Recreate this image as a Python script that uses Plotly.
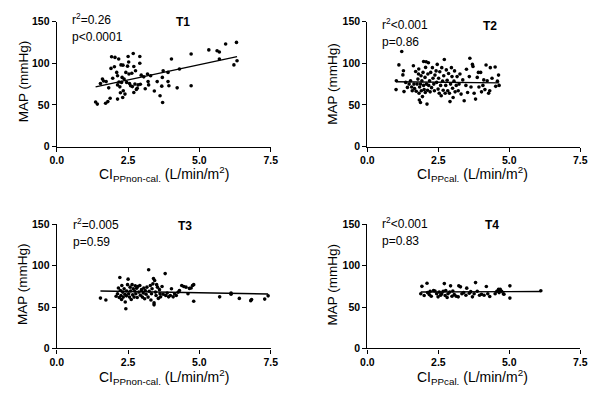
import plotly.graph_objects as go

# ---------------- data ----------------
t1_x = [1.36,1.42,1.53,1.6,1.64,1.71,1.73,1.79,1.82,1.87,1.9,1.92,1.96,2.02,2.04,2.1,2.13,2.13,2.13,2.17,
        2.18,2.21,2.23,2.25,2.27,2.29,2.31,2.32,2.33,2.36,2.39,2.42,2.45,2.48,2.5,2.52,2.53,2.55,2.59,2.63,
        2.65,2.68,2.7,2.7,2.74,2.76,2.79,2.82,2.85,2.91,2.91,2.93,2.96,3.05,3.1,3.18,3.2,3.22,3.29,3.42,
        3.52,3.62,3.68,3.7,3.71,3.73,3.9,3.9,3.93,4.02,4.22,4.3,4.71,4.71,5.33,5.62,5.7,5.7,5.92,6.21,6.3,6.32]
t1_y = [53.5,51,75.6,81,78.7,52,78,54,70.5,58,93.8,107.7,82,95.7,107,89,85,74,57,105,
        77.5,71.7,64.7,98,77,83,59,97.7,67,81,63,89,77,96.5,108,101.5,87,75.6,73,88,
        72,111.6,96,65,75,91,68.6,70,74,108,100,74.8,85.7,83.7,69.4,87,78,74,85,66.7,
        78,61,72.5,83,53,91,78,89,73,105,70.5,93,111,73,116,115,113.5,105,123,98,125,103]
t1_fit_x = [1.36, 6.32]
t1_fit_y = [71.7, 108.0]

t2_x = [1.01,1.02,1.11,1.21,1.25,1.27,1.29,1.35,1.41,1.47,1.52,1.56,1.58,1.62,1.64,1.66,1.7,1.72,1.75,1.78,
        1.8,1.81,1.82,1.83,1.84,1.87,1.87,1.89,1.9,1.92,1.94,1.96,1.98,1.98,2.0,2.03,2.04,2.05,2.07,2.08,
        2.1,2.12,2.13,2.15,2.16,2.19,2.21,2.23,2.26,2.29,2.31,2.34,2.36,2.38,2.42,2.44,2.46,2.49,2.51,2.53,
        2.55,2.58,2.6,2.62,2.65,2.67,2.69,2.71,2.74,2.76,2.78,2.81,2.83,2.86,2.89,2.91,2.93,2.96,2.98,3.0,
        3.02,3.05,3.07,3.09,3.13,3.16,3.2,3.23,3.26,3.3,3.36,3.41,3.47,3.49,3.53,3.59,3.61,3.65,3.7,3.72,
        3.76,3.81,3.87,3.91,3.93,3.99,4.02,4.07,4.1,4.14,4.18,4.22,4.27,4.31,4.33,4.39,4.5,4.52,4.58,4.62,4.64]
t2_y = [68.4,79,98,114,86,91,66,77,71,75,79,71.5,67,97,75,69.6,90,66.5,75,81,
        87,93,64,56,71.5,75,53,85,67,79,60,89,73.4,102,68.4,83,65,95,101.7,75,
        51,67.6,87,100.5,73.4,79,65.7,89,70.7,94.7,82,75,67,85.8,90.8,77,98.6,69,82,64,
        89.7,73.4,61,94.7,78.5,67.6,85,104.4,64,73.4,92,79.6,67,87.7,64,54,75,94.7,84,70,
        59,78.5,90.8,65.7,73.4,84,67,75,87,63,80,55,73.4,92.8,65,84,106,71.5,98.6,96,
        64,57,83,89,71.5,89,65.7,73.4,80,68.4,97.8,79,64,67,94.7,82,95.5,72.3,78.5,85.8,73.4]
t2_fit_x = [1.01, 4.64]
t2_fit_y = [77.8, 76.5]

t3_x = [1.53,1.72,2.08,2.13,2.16,2.19,2.21,2.23,2.25,2.27,2.28,2.31,2.33,2.36,2.39,2.4,2.42,2.44,2.45,2.48,
        2.5,2.52,2.55,2.57,2.59,2.61,2.64,2.66,2.68,2.71,2.73,2.75,2.77,2.8,2.82,2.84,2.88,2.91,2.93,2.97,
        3.0,3.03,3.05,3.08,3.1,3.13,3.16,3.2,3.22,3.24,3.28,3.3,3.32,3.34,3.37,3.39,3.41,3.41,3.43,3.46,
        3.48,3.5,3.53,3.56,3.6,3.62,3.64,3.69,3.73,3.8,3.82,3.87,3.92,3.98,4.02,4.08,4.13,4.19,4.25,4.3,
        4.38,4.45,4.53,4.6,4.65,4.71,4.76,4.8,4.8,5.71,6.11,6.11,6.4,6.8,6.83,7.29,7.41]
t3_y = [60.8,58.4,63,66,73,61.5,85.7,70,64,59,76,68,62,72,65.4,56,48,63.5,69.3,77,
        83.7,66,62,74,69.3,59,77,64.7,72,62,69.3,75.6,66,72.7,61.5,74.8,68,76,64.3,71,
        62,67,73,60,70,65.4,74,62,95,69,76,58.4,66,72,78,84.5,55,52.6,82,68,
        64,77,74,60.4,71,66,62.3,74.8,65.4,90.4,64,67,62.3,64,72,62.3,66,64,67.8,70,
        76,74.8,74,66,72.5,73,76,77,57,62.3,67,65.4,60.4,57.7,59,59.6,63.5]
t3_fit_x = [1.53, 7.41]
t3_fit_y = [69.3, 65.8]

t4_x = [1.88,1.92,2.0,2.1,2.12,2.18,2.21,2.25,2.33,2.38,2.44,2.49,2.53,2.58,2.62,2.67,2.71,2.74,2.76,2.81,
        2.84,2.9,2.93,2.98,3.01,3.06,3.13,3.2,3.22,3.28,3.33,3.39,3.47,3.5,3.59,3.64,3.7,3.76,3.81,3.87,
        3.95,4.02,4.11,4.19,4.24,4.31,4.5,4.56,4.62,4.64,4.68,4.73,4.79,4.81,5.02,5.02,6.11]
t4_y = [66,75,64,78.7,67.4,65,69,63,70,69.3,66,62.3,68,64.3,66,69,78.3,64,70,61.5,
        66,68,75.6,63,69.3,65,63,62.3,75.6,74.4,66,67.4,64.3,72.8,66.6,68.6,62.3,66,79.5,69,
        64.3,65.4,64.3,74.8,66,62.7,66,69,71.3,67.4,71.3,69,66,65.4,75.6,60.8,69.7]
t4_fit_x = [1.88, 6.11]
t4_fit_y = [68.2, 68.8]

panel_names = ["T1", "T2", "T3", "T4"]
r2_text = ["r<sup>2</sup>=0.26", "r<sup>2</sup><0.001", "r<sup>2</sup>=0.005", "r<sup>2</sup><0.001"]
p_text = ["p<0.0001", "p=0.86", "p=0.59", "p=0.83"]
x_titles = ["CI<sub>PPnon-cal.</sub> (L/min/m<sup>2</sup>)", "CI<sub>PPcal.</sub> (L/min/m<sup>2</sup>)",
            "CI<sub>PPnon-cal.</sub> (L/min/m<sup>2</sup>)", "CI<sub>PPcal.</sub> (L/min/m<sup>2</sup>)"]
y_title = "MAP (mmHg)"
x_ticks = [0, 2.5, 5, 7.5]
x_ticklabels = ["0.0", "2.5", "5.0", "7.5"]
y_ticks = [0, 50, 100, 150]

xs = [t1_x, t2_x, t3_x, t4_x]
ys = [t1_y, t2_y, t3_y, t4_y]
fxs = [t1_fit_x, t2_fit_x, t3_fit_x, t4_fit_x]
fys = [t1_fit_y, t2_fit_y, t3_fit_y, t4_fit_y]

# ---------------- layout ----------------
W, H = 600, 400
FONT = "Arial, Liberation Sans, sans-serif"

def px(x):
    return x / W

def py(y):
    return 1 - y / H

# pixel geometry for each panel: (x0, x1, ytop, ybottom)
geo = [(51, 270, 16, 145), (369, 587, 16, 145), (51, 270, 225, 353), (369, 587, 225, 353)]

fig = go.Figure()
layout = dict(width=W, height=H, margin=dict(l=0, r=0, t=0, b=0),
              paper_bgcolor="white", plot_bgcolor="white", showlegend=False,
              font=dict(family=FONT, color="black"))
annotations = []

for i in range(4):
    ax = "" if i == 0 else str(i + 1)
    x0, x1, yt, yb = geo[i]
    fig.add_trace(go.Scatter(x=xs[i], y=ys[i], mode="markers",
                             marker=dict(color="black", size=3.6),
                             xaxis="x" + ax, yaxis="y" + ax, cliponaxis=False))
    fig.add_trace(go.Scatter(x=fxs[i], y=fys[i], mode="lines",
                             line=dict(color="black", width=1.4),
                             xaxis="x" + ax, yaxis="y" + ax, cliponaxis=False))
    layout["xaxis" + ax] = dict(domain=[px(x0), px(x1)], range=[0, 7.5], anchor="y" + ax,
                                showline=True, linecolor="black", linewidth=1.3,
                                ticks="outside", ticklen=4, tickwidth=1.3, tickcolor="black",
                                tickvals=x_ticks, ticktext=x_ticklabels, showgrid=False, zeroline=False,
                                tickfont=dict(family=FONT, size=10.5, color="black", weight="bold"))
    layout["yaxis" + ax] = dict(domain=[py(yb), py(yt)], range=[0, 150], anchor="x" + ax,
                                showline=True, linecolor="black", linewidth=1.3,
                                ticks="outside", ticklen=4, tickwidth=1.3, tickcolor="black",
                                tickvals=y_ticks, showgrid=False, zeroline=False,
                                tickfont=dict(family=FONT, size=10.5, color="black", weight="bold"))

# text positions (pixels): r2 box bottom, p box top
r2_pos = [(64, 24), (382, 29), (66, 235), (382, 234)]
p_pos = [(64, 23), (382, 28), (66, 234), (382, 233)]
t_pos = [(180, 16), (495, 21), (182, 227), (497, 226)]
yt_pos = [(17, 78), (333, 80), (16, 287), (333, 287)]
xt_pos = [(161, 173), (477, 173), (161, 382), (477, 382)]

for i in range(4):
    annotations.append(dict(text=r2_text[i], x=px(r2_pos[i][0]), y=py(r2_pos[i][1]), xref="paper", yref="paper",
                            xanchor="left", yanchor="bottom", showarrow=False, font=dict(size=12)))
    annotations.append(dict(text=p_text[i], x=px(p_pos[i][0]), y=py(p_pos[i][1]), xref="paper", yref="paper",
                            xanchor="left", yanchor="top", showarrow=False, font=dict(size=12)))
    annotations.append(dict(text="<b>" + panel_names[i] + "</b>", x=px(t_pos[i][0]), y=py(t_pos[i][1]),
                            xref="paper", yref="paper", xanchor="center", yanchor="middle",
                            showarrow=False, font=dict(size=12)))
    annotations.append(dict(text=y_title, x=px(yt_pos[i][0]), y=py(yt_pos[i][1]), xref="paper", yref="paper",
                            xanchor="center", yanchor="middle", textangle=-90, showarrow=False,
                            font=dict(size=13.5)))
    annotations.append(dict(text=x_titles[i], x=px(xt_pos[i][0]), y=py(xt_pos[i][1]), xref="paper", yref="paper",
                            xanchor="center", yanchor="middle", showarrow=False, font=dict(size=14)))

layout["annotations"] = annotations
fig.update_layout(**layout)
fig.write_html("out.html", config={"displayModeBar": False},
               post_script="document.body.style.margin='0';document.body.style.padding='0';")
